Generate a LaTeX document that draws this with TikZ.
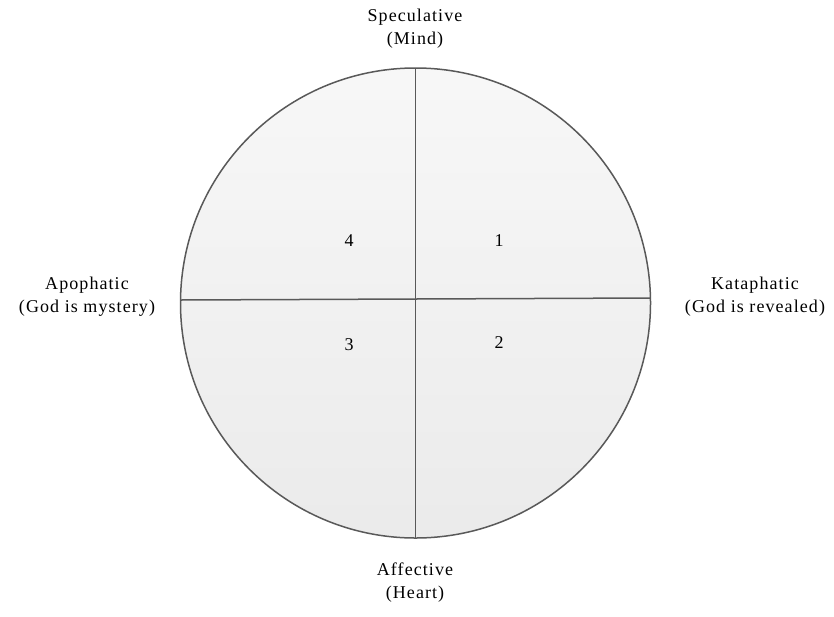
\documentclass[tikz,border=0pt]{standalone}
\usepackage{fontspec}
\setmainfont{Liberation Serif}[LetterSpace=6]
\begin{document}
\begin{tikzpicture}[x=1pt,y=-1pt,
  lbl/.style={align=center,inner sep=0pt,font=\fontsize{18}{23}\selectfont,text=black},
  num/.style={inner sep=0pt,font=\fontsize{18}{20}\selectfont,text=black},
  ln/.style={draw=black!65,line width=1.5pt}]
\useasboundingbox (0,0) rectangle (834,616);
\node[circle,minimum size=470pt,inner sep=0pt,top color=black!3,bottom color=black!8,ln] (c) at (415.5,303) {};
\coordinate (t) at (415.5,68);
\coordinate (b) at (415.5,538);
\coordinate (l) at (180.5,300);
\coordinate (r) at (650.5,298);
\draw[ln] (t) -- (b);
\draw[ln] (l) -- (r);
\node[lbl] (sp) at (415,29) {Speculative\\(Mind)};
\node[lbl] (af) at (415,583) {Affective\\(Heart)};
\node[lbl] (ap) at (87,297) {Apophatic\\(God is mystery)};
\node[lbl] (ka) at (755,297) {Kataphatic\\(God is revealed)};
\node[num] (n4) at (349,241) {4};
\node[num] (n1) at (499,241) {1};
\node[num] (n3) at (349,345) {3};
\node[num] (n2) at (499,343) {2};
\end{tikzpicture}
\end{document}
